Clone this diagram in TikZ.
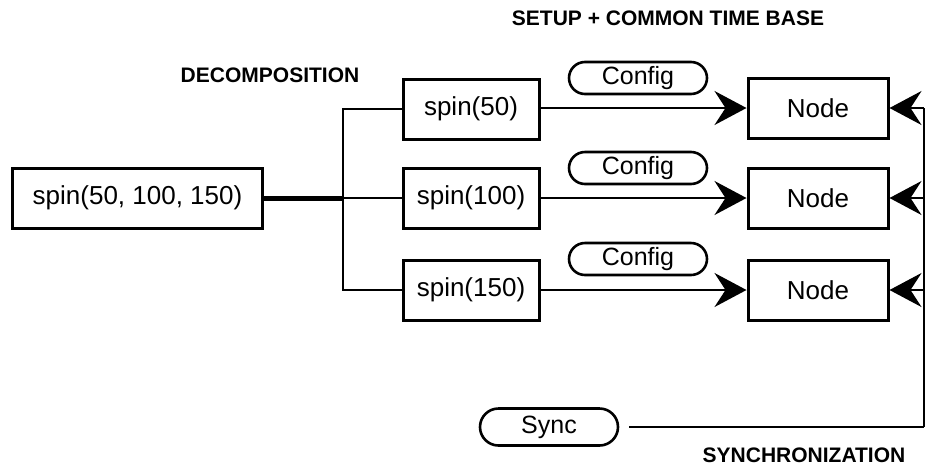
\documentclass[tikz,border=0pt]{standalone}
\usepackage{fontspec}
\setmainfont{Liberation Sans}
\usetikzlibrary{arrows.meta,shapes.misc,positioning}
\tikzset{
  box/.style={draw, line width=1.5pt, minimum width=68pt, minimum height=30pt, inner sep=0pt, font=\fontsize{13}{15}\selectfont},
  pill/.style={draw, line width=1.3pt, rounded rectangle, minimum width=69pt, minimum height=16pt, inner sep=0pt, font=\fontsize{12.5}{14}\selectfont},
  heading/.style={font=\fontsize{10.5}{12}\selectfont\bfseries, inner sep=0pt},
  wire/.style={line width=1pt},
  tip/.style={wire, -{Stealth[length=16pt, width=17pt, inset=5.5pt]}}
}
\begin{document}
\begin{tikzpicture}[x=0.5pt, y=-0.5pt]
    \useasboundingbox (0,0) rectangle (926,467);

    % decomposition
    \node[box, minimum width=125pt] (spinall) at (137.5,198) {spin(50, 100, 150)};
    \node[box] (spina) at (471,109) {spin(50)};
    \node[box] (spinb) at (471,198) {spin(100)};
    \node[box] (spinc) at (471,290) {spin(150)};
    \coordinate (busmid) at (343,198);
    \draw[line width=2.5pt] (spinall.east) -- (busmid);
    \draw[wire] (spina.west) -| (busmid) |- (spinc.west);
    \draw[wire] (busmid) -- (spinb.west);

    % setup
    \node[box, minimum width=70pt] (nodea) at (818,108) {Node};
    \node[box, minimum width=70pt] (nodeb) at (818,198) {Node};
    \node[box, minimum width=70pt] (nodec) at (818,290) {Node};
    \node[pill] (confa) at (638,78) {Config};
    \node[pill] (confb) at (638,168) {Config};
    \node[pill] (confc) at (638,259) {Config};
    \path (spina.east |- nodea) edge[tip] (nodea)
          (spinb) edge[tip] (nodeb)
          (spinc) edge[tip] (nodec);

    % synchronization
    \node[pill, minimum height=18.5pt] (sync) at (549,427) {Sync};
    \coordinate (busend) at (924,427);
    \draw[wire, shorten <=5pt] (sync.east) -- (busend);
    \draw[line width=0.6pt] (busend) -- (nodea.east -| busend);
    \path (nodea.east -| busend) edge[tip] (nodea.east)
          (nodeb.east -| busend) edge[tip] (nodeb.east)
          (nodec.east -| busend) edge[tip] (nodec.east);

    \node[heading] (setuplbl) at (668,18) {SETUP + COMMON TIME BASE};
    \node[heading] (decomplbl) at (270,75) {DECOMPOSITION};
    \node[heading] (synclbl) at (804,455) {SYNCHRONIZATION};
  \end{tikzpicture}
\end{document}
